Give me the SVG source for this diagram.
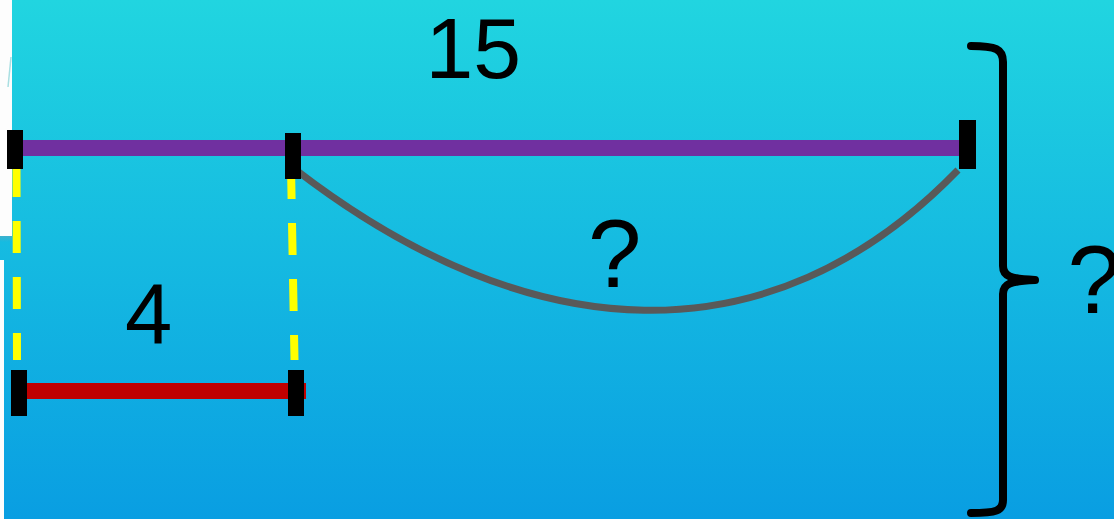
<svg xmlns="http://www.w3.org/2000/svg" width="1114" height="519" viewBox="0 0 1114 519">
  <defs>
    <linearGradient id="bg" x1="0" y1="0" x2="0" y2="1">
      <stop offset="0" stop-color="#21d5e0"/>
      <stop offset="1" stop-color="#099ee2"/>
    </linearGradient>
    <linearGradient id="shadow" x1="0" y1="0" x2="0" y2="1">
      <stop offset="0" stop-color="#5aa9bf" stop-opacity="0.6"/>
      <stop offset="1" stop-color="#5aa9bf" stop-opacity="0"/>
    </linearGradient>
  </defs>
  <style>
    .tick { fill: #000000; }
    .dash { stroke: #ffff00; stroke-width: 8; stroke-dasharray: 32 24; fill: none; }
    .lbl { font-family: "Liberation Sans", Arial, sans-serif; fill: #000000; }
  </style>
  <rect width="1114" height="519" fill="url(#bg)"/>
  <g id="panels">
    <rect x="0" y="0" width="12" height="236" fill="#fdfdfd"/>
    <rect x="0" y="236" width="12" height="6" fill="url(#shadow)"/>
    <rect x="0" y="260" width="4" height="259" fill="#fdfdfd"/>
    <line x1="11" y1="57" x2="8" y2="87" stroke="#a9dfe2" stroke-width="1.5"/>
  </g>
  <g id="connectors">
    <line id="guide-left" class="dash" x1="16.5" y1="165" x2="17" y2="360"/>
    <line id="guide-right" class="dash" x1="291" y1="167" x2="294.5" y2="360"/>
    <path id="arc" d="M296,170 C530,350 770,364 958,170" fill="none" stroke="#595959" stroke-width="7"/>
    <path id="brace" d="M971,46 C996,46 1003,49 1003,62 L1003,266 C1003,276 1010,279 1035,280 M1035,280 C1010,281 1003,284 1003,294 L1003,500 C1003,511 996,513 971,513" fill="none" stroke="#000" stroke-width="8" stroke-linecap="round"/>
  </g>
  <g id="segment-15">
    <line x1="20" y1="148" x2="962" y2="148" stroke="#7030a0" stroke-width="16"/>
    <rect class="tick" x="7" y="130" width="16" height="39"/>
    <rect class="tick" x="285" y="133" width="16" height="46"/>
    <rect class="tick" x="959" y="120" width="17" height="49"/>
  </g>
  <g id="segment-4">
    <line x1="20" y1="391" x2="306" y2="391" stroke="#c00000" stroke-width="16"/>
    <rect class="tick" x="11" y="370" width="16" height="46"/>
    <rect class="tick" x="288" y="370" width="16" height="46"/>
  </g>
  <g id="labels">
    <text class="lbl" x="425.5" y="78" font-size="86">15</text>
    <text class="lbl" x="125" y="343" font-size="85">4</text>
    <text class="lbl" x="588" y="287" font-size="96">?</text>
    <text class="lbl" x="1067.5" y="313" font-size="96">?</text>
  </g>
</svg>
